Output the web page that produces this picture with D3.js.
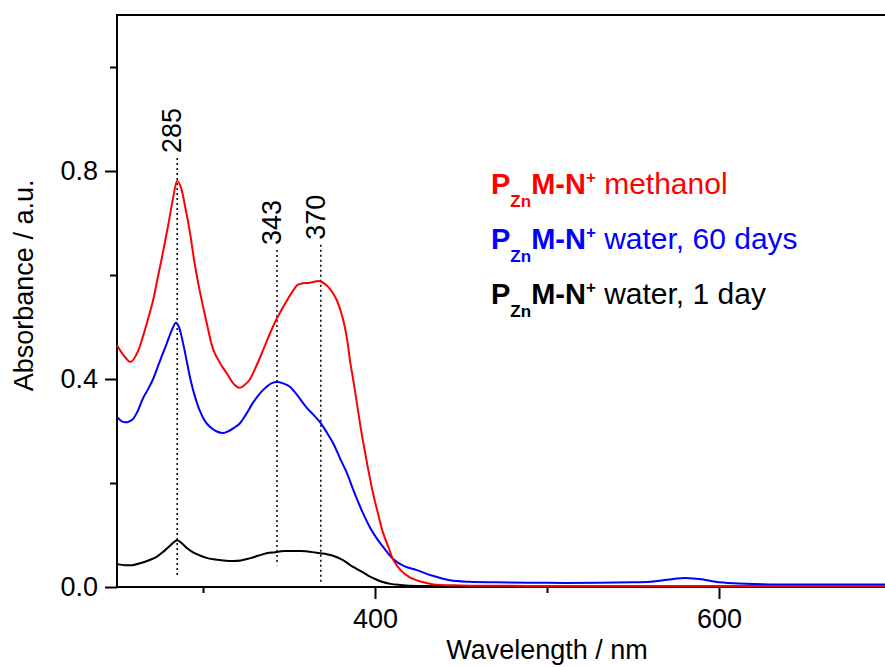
<!DOCTYPE html>
<html>
<head>
<meta charset="utf-8">
<script src="https://cdn.jsdelivr.net/npm/d3@7"></script>
<style>
    body { margin: 0; background: #fff; }
    svg { display: block; font-family: "Liberation Sans", Arial, sans-serif; }
</style>
</head>
<body>
<div id="chart"></div>
<script>

// Red: methanol
let methanolNm = [250, 254, 258, 262, 265, 268, 271, 274, 277, 280, 283, 285, 287, 290, 292.5, 295, 298, 302, 306, 310,
    314, 318, 321.5, 324, 327, 331, 335, 339, 342.4, 346, 349, 352, 355, 358, 362, 366, 368, 372, 375.6, 378,
    381, 383.7, 385.5, 388, 390, 392, 394, 396, 399, 402, 404.7, 408, 410.5, 415, 420, 427, 434, 450, 500, 600, 700];
let methanolAbs = [0.465, 0.445, 0.433, 0.452, 0.481, 0.515, 0.552, 0.600, 0.648, 0.700, 0.755, 0.781, 0.770, 0.725, 0.680, 0.625, 0.571, 0.510, 0.456, 0.430,
    0.410, 0.390, 0.383, 0.388, 0.398, 0.425, 0.456, 0.488, 0.513, 0.535, 0.552, 0.568, 0.581, 0.584, 0.585, 0.588, 0.588, 0.580, 0.565, 0.550,
    0.520, 0.478, 0.435, 0.385, 0.342, 0.300, 0.263, 0.227, 0.178, 0.138, 0.104, 0.075, 0.053, 0.032, 0.019, 0.010, 0.005, 0.003, 0.002, 0.002, 0.002];

// Blue: water, 60 days
let water60Nm = [250, 253, 256, 259, 262, 265, 268, 271, 275, 279, 282, 284.3, 286, 288.4, 290.5, 292.4, 295, 298, 301, 304,
    308, 311.6, 315, 318, 321.5, 325, 329, 333, 337, 340, 343.6, 347, 350.5, 355, 360, 364, 368, 372, 375.6, 380,
    383.7, 387, 390, 393, 397, 400.5, 404.7, 410.5, 417, 424, 433, 443.6, 455, 470, 500, 530, 550, 560, 570, 578,
    583, 590, 598, 608, 630, 660, 700];
let water60Abs = [0.327, 0.318, 0.317, 0.322, 0.338, 0.362, 0.380, 0.400, 0.435, 0.469, 0.495, 0.508, 0.500, 0.469, 0.435, 0.404, 0.370, 0.340, 0.320, 0.308,
    0.299, 0.296, 0.300, 0.306, 0.315, 0.332, 0.354, 0.372, 0.385, 0.392, 0.394, 0.391, 0.385, 0.368, 0.346, 0.332, 0.317, 0.297, 0.277, 0.245,
    0.219, 0.190, 0.165, 0.142, 0.115, 0.096, 0.077, 0.054, 0.040, 0.033, 0.022, 0.013, 0.010, 0.009, 0.008, 0.008, 0.009, 0.010, 0.014, 0.017,
    0.017, 0.015, 0.010, 0.007, 0.005, 0.005, 0.005];

// Black: water, 1 day
let water1Nm = [250, 255, 259, 264, 269, 273, 277, 281, 285, 288, 291, 294, 298, 302, 307, 312, 317.5, 322, 327, 332,
    337, 342, 347, 352, 357, 362, 368, 372, 375.6, 380, 384, 387, 392, 396, 399, 404, 409, 414.5, 425, 450, 700];
let water1Abs = [0.044, 0.042, 0.042, 0.046, 0.052, 0.058, 0.068, 0.080, 0.090, 0.083, 0.074, 0.067, 0.061, 0.056, 0.053, 0.051, 0.050, 0.051, 0.055, 0.060,
    0.065, 0.067, 0.069, 0.069, 0.069, 0.068, 0.065, 0.063, 0.060, 0.054, 0.046, 0.039, 0.030, 0.022, 0.017, 0.010, 0.006, 0.004, 0.002, 0.002, 0.002];

// Marked peaks (dotted lines)
let peakNm = [285, 343, 368.5];
let peakLabels = ["285", "343", "370"];
let peakTop = [0.825, 0.648, 0.658];
let peakBottom = [0.019, 0.042, 0.008];

// Legend
let legendNames = ["methanol", "water, 60 days", "water, 1 day"];
let seriesColors = ["#ff0000", "#0000ff", "#000000"];

// Axis ticks
let yMajorTicks = [0, 0.4, 0.8];
let yMinorTicks = [0.2, 0.6, 1.0];
let xMajorTicks = [400, 600];
let xMinorTicks = [300, 500];


class SpectrumChart {
    constructor(parentElement) {
        this.parentElement = parentElement;
        this.series = [
            {nm: methanolNm, abs: methanolAbs, color: seriesColors[0]},
            {nm: water60Nm, abs: water60Abs, color: seriesColors[1]},
            {nm: water1Nm, abs: water1Abs, color: seriesColors[2]}
        ];
        this.initVis();
    }

    initVis() {
        let vis = this;

        vis.margin = {top: 15, left: 117};
        vis.width = 774;   // plot runs past the right edge of the picture
        vis.height = 572;

        vis.svg = d3.select("#" + vis.parentElement).append("svg")
            .attr("width", 885)
            .attr("height", 667)
            .append("g")
            .attr("transform", `translate(${vis.margin.left}, ${vis.margin.top})`);

        vis.x = d3.scaleLinear().domain([250, 700]).range([0, vis.width]);
        vis.y = d3.scaleLinear().domain([0, 1.1]).range([vis.height, 0]);

        // Axes
        let fontSize = "27px";
        let yMajor = d3.axisLeft(vis.y).tickValues(yMajorTicks).tickSize(12).tickPadding(7).tickFormat(d3.format(".1f"));
        let yMinor = d3.axisLeft(vis.y).tickValues(yMinorTicks).tickSize(7).tickFormat("");
        let xMajor = d3.axisBottom(vis.x).tickValues(xMajorTicks).tickSize(12).tickPadding(10).tickFormat(d3.format("d"));
        let xMinor = d3.axisBottom(vis.x).tickValues(xMinorTicks).tickSize(6).tickFormat("");

        [yMajor, yMinor].forEach(a => {
            vis.svg.append("g").attr("class", "y-axis axis").call(a);
        });
        [xMajor, xMinor].forEach(a => {
            vis.svg.append("g").attr("class", "x-axis axis")
                .attr("transform", `translate(0, ${vis.height})`)
                .call(a);
        });
        vis.svg.selectAll(".axis .domain").remove();
        vis.svg.selectAll(".axis line").attr("stroke", "#000").attr("stroke-width", 2);
        vis.svg.selectAll(".axis text")
            .attr("fill", "#000")
            .style("font-size", fontSize)
            .style("font-family", "'Liberation Sans', Arial, sans-serif");

        // Frame
        vis.svg.append("rect")
            .attr("x", 0).attr("y", 0)
            .attr("width", vis.width).attr("height", vis.height)
            .attr("fill", "none")
            .attr("stroke", "#000")
            .attr("stroke-width", 2);

        // Axis titles
        vis.svg.append("text")
            .attr("transform", `translate(${vis.x(500)}, ${vis.height + 72})`)
            .attr("text-anchor", "middle")
            .style("font-size", fontSize)
            .text("Wavelength / nm");

        vis.svg.append("text")
            .attr("transform", `translate(${33 - vis.margin.left}, ${vis.y(0.58)}) rotate(-90)`)
            .attr("text-anchor", "middle")
            .style("font-size", fontSize)
            .text("Absorbance / a.u.");

        // Dotted peak markers
        vis.svg.selectAll(".peak-line")
            .data(peakNm)
            .enter()
            .append("line")
            .attr("class", "peak-line")
            .attr("x1", d => vis.x(d))
            .attr("x2", d => vis.x(d))
            .attr("y1", (d, i) => vis.y(peakTop[i]))
            .attr("y2", (d, i) => vis.y(peakBottom[i]))
            .attr("stroke", "#000")
            .attr("stroke-width", 1.5)
            .attr("stroke-dasharray", "2,3");

        vis.svg.selectAll(".peak-label")
            .data(peakNm)
            .enter()
            .append("text")
            .attr("class", "peak-label")
            .attr("transform", (d, i) => `translate(${vis.x(d) + 4}, ${vis.y(peakTop[i]) - 5}) rotate(-90)`)
            .style("font-size", fontSize)
            .text((d, i) => peakLabels[i]);

        // Spectra
        vis.line = d3.line()
            .x(d => vis.x(d[0]))
            .y(d => vis.y(d[1]))
            .curve(d3.curveCatmullRom.alpha(0.5));

        vis.svg.selectAll(".spectrum")
            .data(vis.series.slice().reverse())
            .enter()
            .append("path")
            .attr("class", "spectrum")
            .attr("d", d => vis.line(d.nm.map((n, i) => [n, d.abs[i]])))
            .attr("fill", "none")
            .attr("stroke", d => d.color)
            .attr("stroke-width", 2);

        // Legend
        let legend = vis.svg.selectAll(".legend-entry")
            .data(legendNames)
            .enter()
            .append("text")
            .attr("class", "legend-entry")
            .attr("x", 491 - vis.margin.left)
            .attr("y", (d, i) => 179 + i * 55)
            .attr("fill", (d, i) => seriesColors[i])
            .style("font-size", "30px")
            .style("white-space", "pre");

        legend.append("tspan").style("font-weight", "bold").style("font-size", "29px").text("P");
        legend.append("tspan").style("font-weight", "bold").style("font-size", "17px").attr("dy", 13).text("Zn");
        legend.append("tspan").style("font-weight", "bold").style("font-size", "29px").attr("dy", -13).text("M-N");
        legend.append("tspan").style("font-weight", "bold").style("font-size", "17px").attr("dy", -11).text("+");
        legend.append("tspan").attr("dy", 11).text(d => " " + d);
    }
}

new SpectrumChart("chart");
</script>
</body>
</html>
